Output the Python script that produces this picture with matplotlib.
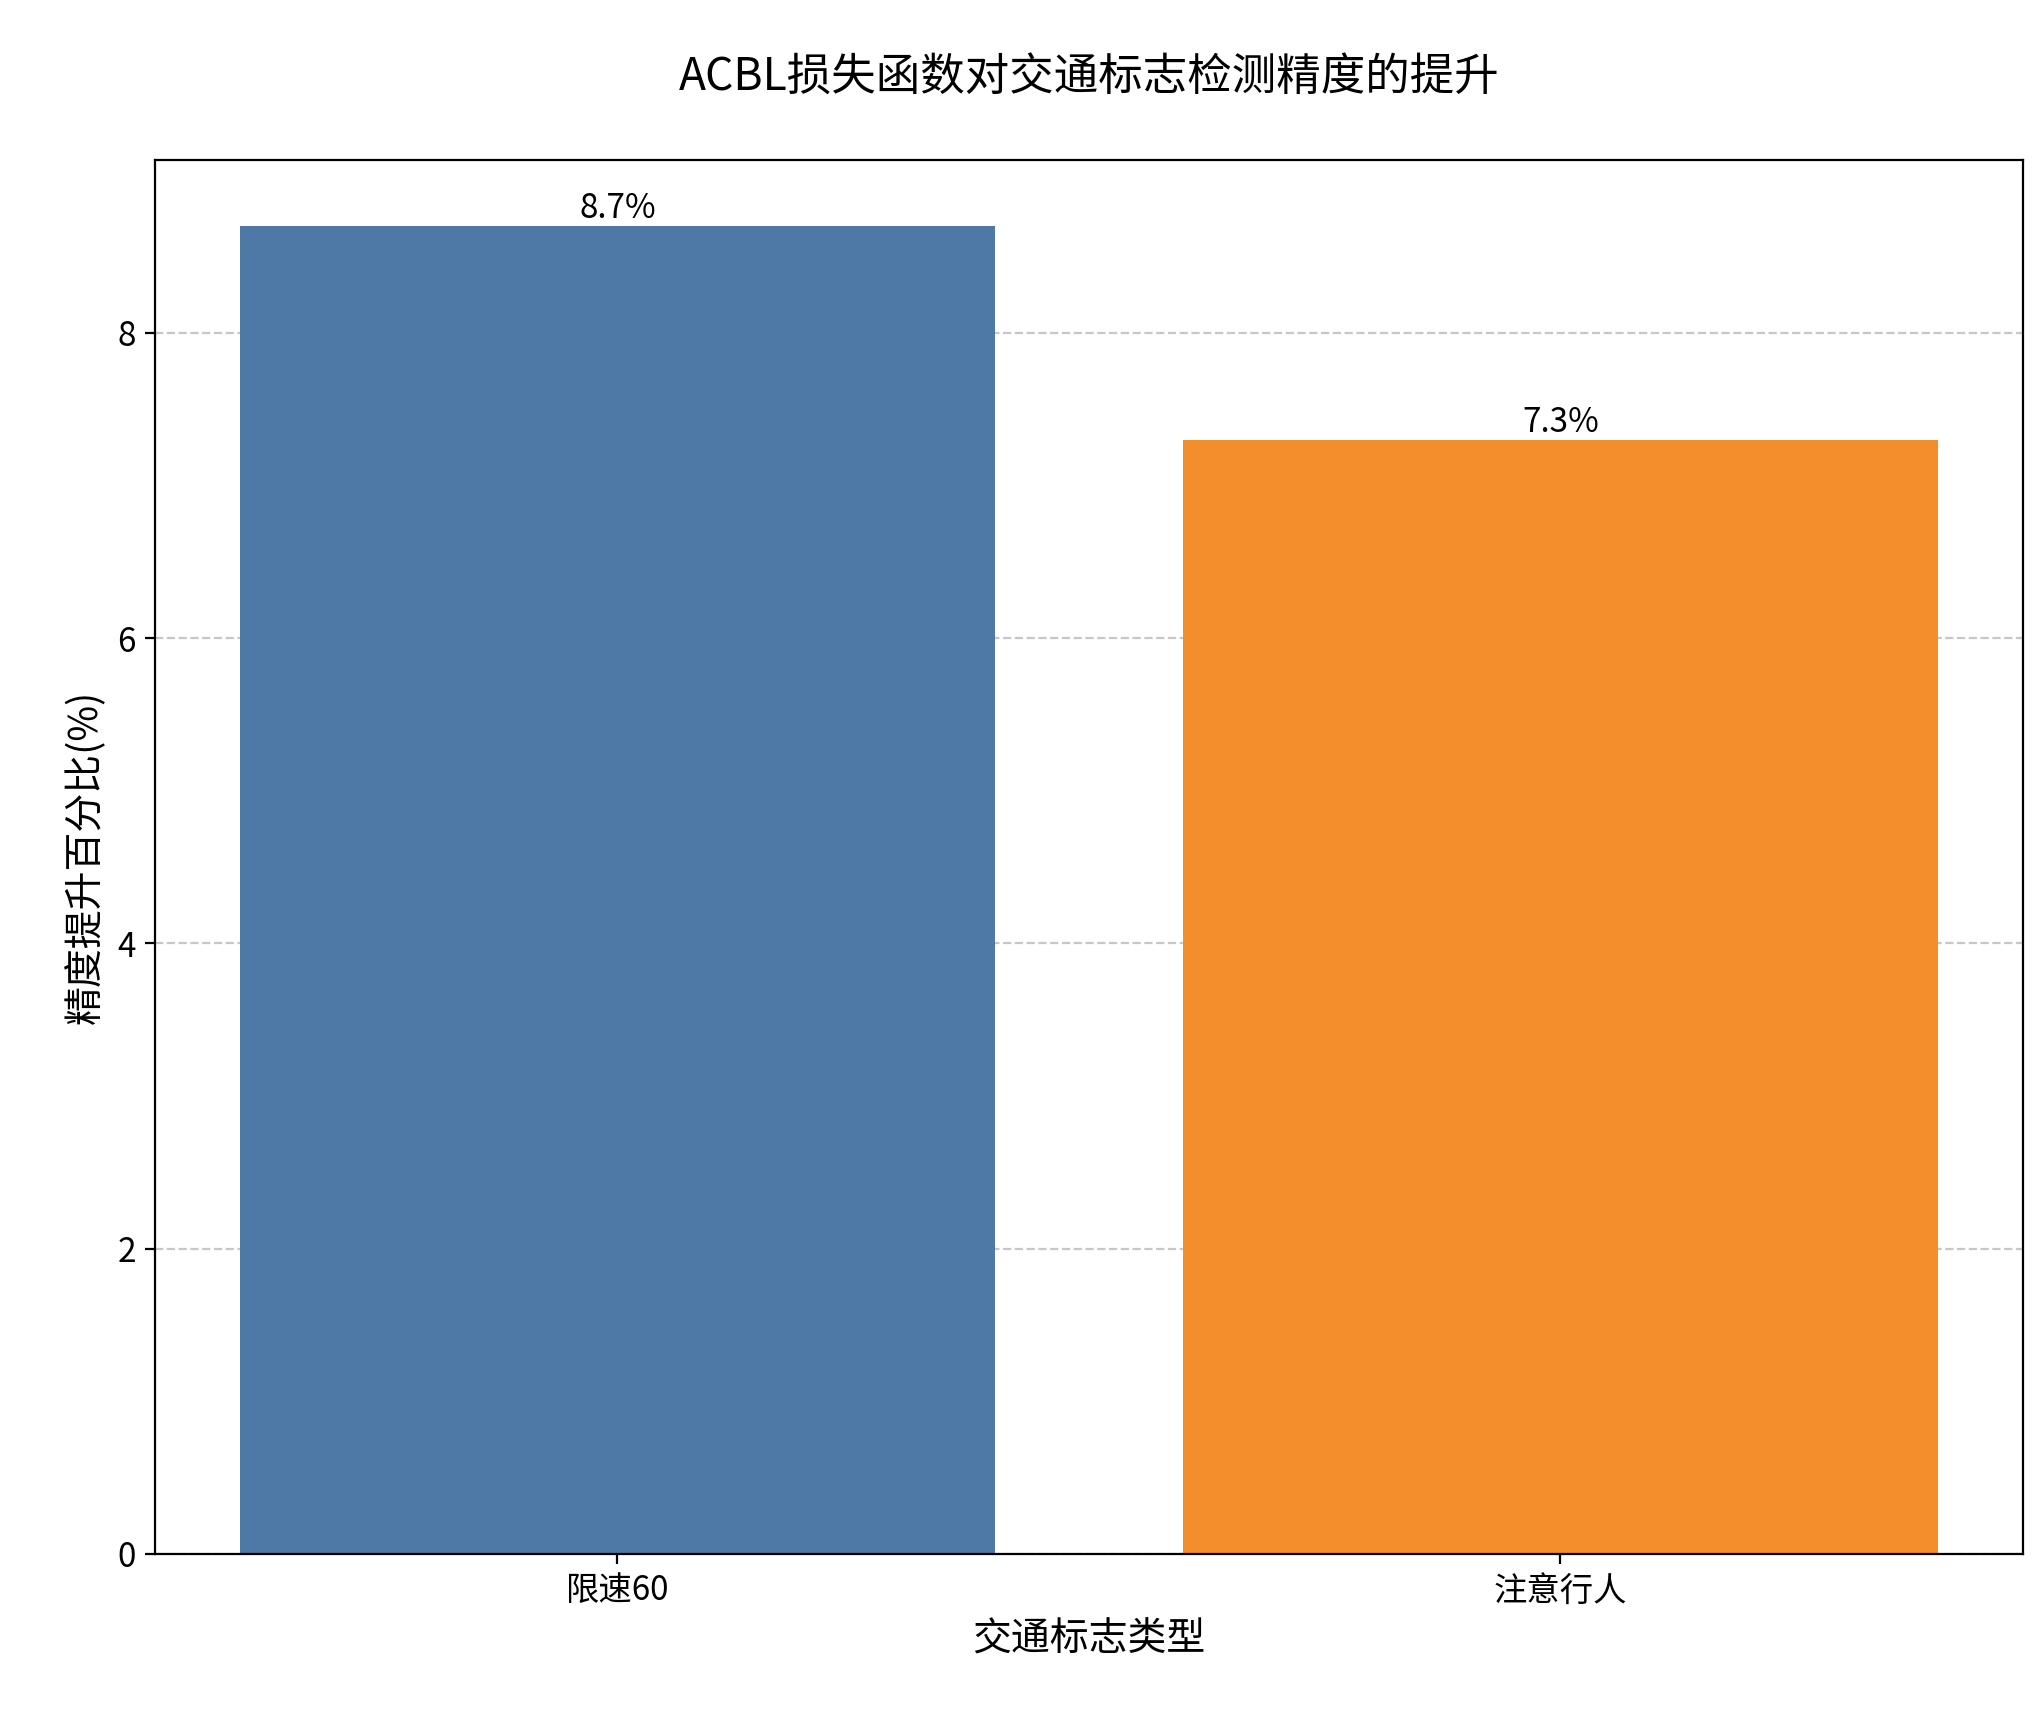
import matplotlib
matplotlib.use("Agg")
import matplotlib.pyplot as plt

plt.rcParams['font.family'] = ['Noto Sans CJK SC', 'DejaVu Sans']

categories = ['限速60', '注意行人']
values = [8.7, 7.3]
colors = ['#4e79a7', '#f28e2b']

fig = plt.figure(figsize=(10.215, 8.585), dpi=200)
ax = fig.add_axes([0.076, 0.095, 0.914, 0.812])
bars = ax.bar(categories, values, color=colors, width=0.8)
for b, v in zip(bars, values):
    ax.text(b.get_x() + b.get_width() / 2, v, f'{v}%', ha='center', va='bottom', fontsize=12)
ax.set_title('ACBL损失函数对交通标志检测精度的提升', fontsize=16, pad=25)
ax.set_xlabel('交通标志类型', fontsize=14)
ax.set_ylabel('精度提升百分比(%)', fontsize=14)
ax.tick_params(labelsize=12)
ax.yaxis.grid(True, linestyle='--', alpha=0.7)
ax.set_axisbelow(True)
fig.savefig('out.png', dpi=200)
